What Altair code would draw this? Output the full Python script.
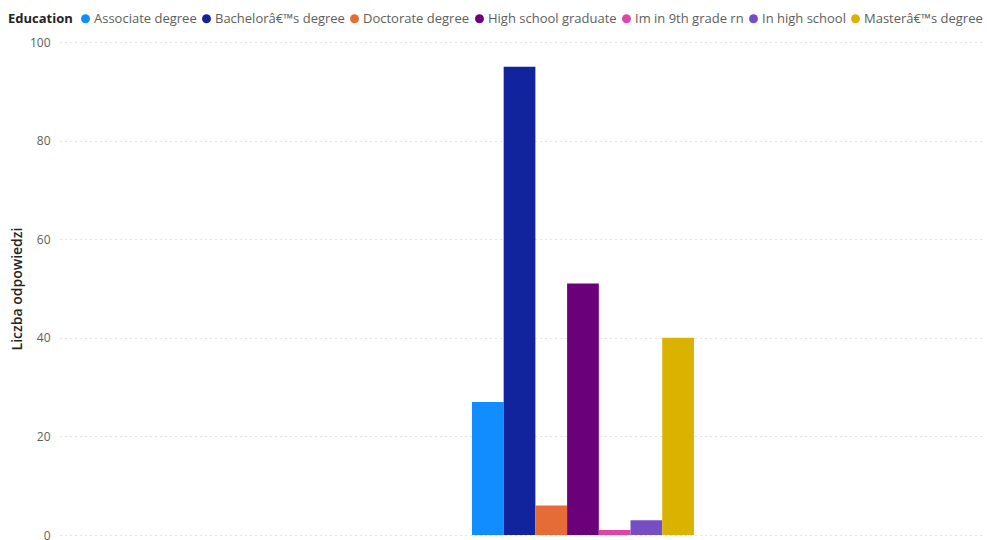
import altair as alt
import pandas as pd

education = [
    "Associate degree",
    "Bachelorâ€™s degree",
    "Doctorate degree",
    "High school graduate",
    "Im in 9th grade rn",
    "In high school",
    "Masterâ€™s degree",
]
counts = [27, 95, 6, 51, 1, 3, 40]
colors = ["#118DFF", "#12239E", "#E66C37", "#6B007B", "#E044A7", "#744EC2", "#D9B300"]
y_ticks = [0, 20, 40, 60, 80, 100]

df = pd.DataFrame({"Education": education, "Liczba odpowiedzi": counts, "Grupa": ""})

FONT = "Open Sans"

chart = (
    alt.Chart(df)
    .mark_bar()
    .encode(
        x=alt.X(
            "Grupa:N",
            scale=alt.Scale(paddingInner=0.3684, paddingOuter=1, align=0.586),
            axis=None,
        ),
        xOffset=alt.XOffset(
            "Education:N",
            sort=education,
            scale=alt.Scale(paddingInner=0, paddingOuter=0),
        ),
        y=alt.Y(
            "Liczba odpowiedzi:Q",
            scale=alt.Scale(domain=[0, 100], nice=False),
            axis=alt.Axis(
                values=y_ticks,
                title="Liczba odpowiedzi",
                domain=False,
                ticks=False,
                labelPadding=10,
                labelFontSize=12,
                labelColor="#605E5C",
                labelFont=FONT,
                titleFont=FONT,
                titleFontSize=14,
                titleFontWeight=600,
                titleColor="#252423",
                titlePadding=5,
                grid=True,
                gridColor="#C8C6C4",
                gridDash=[1, 4],
                gridWidth=1,
            ),
        ),
        color=alt.Color(
            "Education:N",
            sort=education,
            scale=alt.Scale(domain=education, range=colors),
            legend=alt.Legend(
                title="Education",
                orient="none",
                direction="horizontal",
                legendX=-52,
                legendY=-30,
                titleOrient="left",
                titleFont=FONT,
                titleFontSize=13,
                titleFontWeight="bold",
                titleColor="#252423",
                titlePadding=6,
                labelFont=FONT,
                labelFontSize=13,
                labelColor="#605E5C",
                labelOffset=2,
                symbolType="circle",
                symbolSize=80,
                symbolStrokeWidth=0,
                columnPadding=3,
            ),
        ),
    )
    .properties(
        width=925,
        height=493,
        autosize=alt.AutoSizeParams(type="none"),
        padding={"left": 60, "top": 42, "right": 2, "bottom": 5},
        background="white",
    )
    .configure_view(stroke=None)
)

chart.save("out.html", embed_options={"renderer": "svg", "actions": False})
